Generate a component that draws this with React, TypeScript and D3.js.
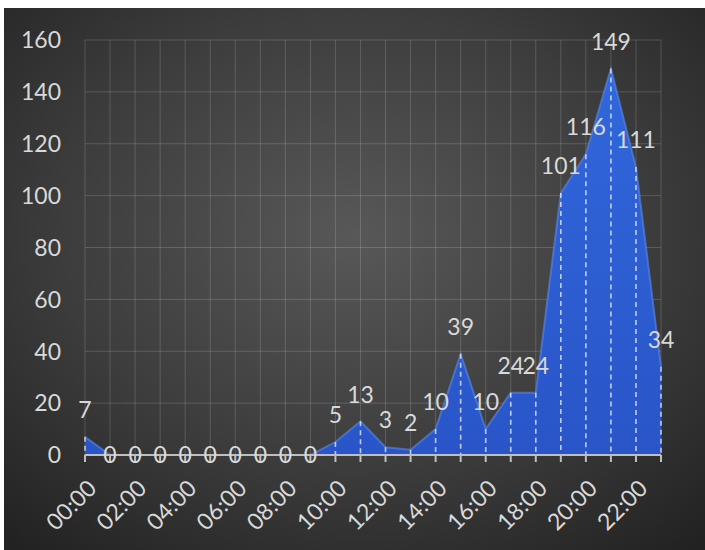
import React from "react";
import * as d3 from "d3";

const hours: string[] = [
  "00:00", "01:00", "02:00", "03:00", "04:00", "05:00", "06:00", "07:00",
  "08:00", "09:00", "10:00", "11:00", "12:00", "13:00", "14:00", "15:00",
  "16:00", "17:00", "18:00", "19:00", "20:00", "21:00", "22:00", "23:00",
];
const counts: number[] = [
  7, 0, 0, 0, 0, 0, 0, 0, 0, 0, 5, 13, 3, 2, 10, 39, 10, 24, 24, 101, 116, 149, 111, 34,
];
const yTicks: number[] = [0, 20, 40, 60, 80, 100, 120, 140, 160];

const W = 705;
const H = 550;
const FONT = "Lato, 'Open Sans', sans-serif";
const TEXT = "#d9d9d9";
const FS = 23;

export default function App() {
  const x = d3.scalePoint<string>().domain(hours).range([85, 661]);
  const y = d3.scaleLinear().domain([0, 160]).range([455, 40]);
  const data = hours.map((h, i) => ({ h, v: counts[i] }));

  const area = d3
    .area<{ h: string; v: number }>()
    .x((d) => x(d.h) as number)
    .y0(y(0))
    .y1((d) => y(d.v));
  const line = d3
    .line<{ h: string; v: number }>()
    .x((d) => x(d.h) as number)
    .y((d) => y(d.v));

  const [x0, x1] = x.range();

  return (
    <svg
      width={W}
      height={H}
      style={{ position: "absolute", left: 0, top: 0, display: "block" }}
    >
      <defs>
        <radialGradient id="bg" cx="0.5" cy="0.42" r="0.75">
          <stop offset="0" stopColor="#585858" />
          <stop offset="0.55" stopColor="#3d3d3d" />
          <stop offset="1" stopColor="#222222" />
        </radialGradient>
        <linearGradient id="areaFill" x1="0" y1="0" x2="0" y2="1">
          <stop offset="0" stopColor="#3167dc" />
          <stop offset="1" stopColor="#2955c8" />
        </linearGradient>
      </defs>
      <rect x={0} y={0} width={W} height={H} fill="#ffffff" />
      <rect x={4} y={8} width={W - 4} height={H - 8} fill="url(#bg)" />

      {/* gridlines */}
      <g stroke="#ffffff" strokeOpacity={0.16} strokeWidth={1}>
        {yTicks.map((t) => (
          <line key={"h" + t} x1={x0} x2={x1} y1={y(t)} y2={y(t)} />
        ))}
        {hours.map((h) => (
          <line key={"v" + h} x1={x(h)} x2={x(h)} y1={y(160)} y2={y(0)} />
        ))}
      </g>

      {/* area */}
      <path d={area(data) || ""} fill="url(#areaFill)" />
      <path
        d={line(data) || ""}
        fill="none"
        stroke="#5a88ec"
        strokeOpacity={0.6}
        strokeWidth={2}
      />

      {/* drop lines */}
      <g stroke="#ffffff" strokeOpacity={0.7} strokeWidth={1.6} strokeDasharray="5,4">
        {data
          .filter((d) => d.v > 0)
          .map((d) => (
            <line key={"d" + d.h} x1={x(d.h)} x2={x(d.h)} y1={y(d.v)} y2={y(0)} />
          ))}
      </g>

      {/* x axis line + ticks */}
      <line x1={x0} x2={x1} y1={y(0)} y2={y(0)} stroke="#bfbfbf" strokeWidth={2} />
      <g stroke="#bfbfbf" strokeWidth={2}>
        {hours.map((h) => (
          <line key={"t" + h} x1={x(h)} x2={x(h)} y1={y(0)} y2={y(0) + 7} />
        ))}
      </g>

      {/* y tick labels */}
      <g fontFamily={FONT} fontSize={FS} fill={TEXT} textAnchor="end">
        {yTicks.map((t) => (
          <text key={"y" + t} x={61} y={y(t)} dy="0.36em">
            {t}
          </text>
        ))}
      </g>

      {/* x tick labels */}
      <g fontFamily={FONT} fontSize={FS} fill={TEXT} textAnchor="end">
        {hours.map((h, i) =>
          i % 2 === 0 ? (
            <text
              key={"x" + h}
              transform={`translate(${(x(h) as number) + 7},${y(0) + 29}) rotate(-45)`}
              dy="0.36em"
            >
              {h}
            </text>
          ) : null
        )}
      </g>

      {/* data labels */}
      <g fontFamily={FONT} fontSize={FS} fill={TEXT} textAnchor="middle">
        {data.map((d) => (
          <text
            key={"l" + d.h}
            x={x(d.h)}
            y={d.v > 0 ? y(d.v) - 27 : y(0)}
            dy="0.36em"
          >
            {d.v}
          </text>
        ))}
      </g>
    </svg>
  );
}
